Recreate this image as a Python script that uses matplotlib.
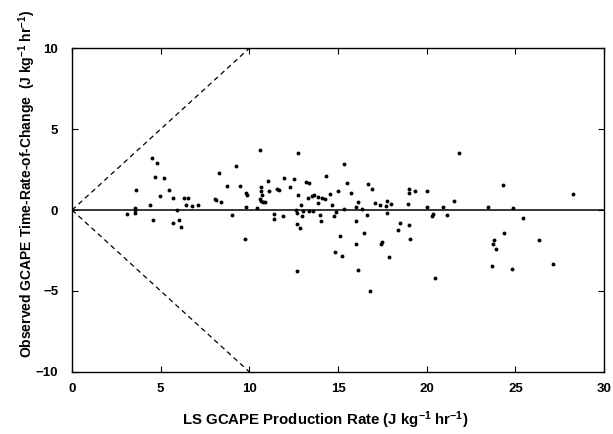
import numpy as np
import matplotlib
matplotlib.use("Agg")
import matplotlib.pyplot as plt

plt.rcParams["font.family"] = ["Liberation Sans", "DejaVu Sans"]
plt.rcParams["mathtext.fontset"] = "custom"
plt.rcParams["mathtext.rm"] = "Liberation Sans:bold"
plt.rcParams["mathtext.it"] = "Liberation Sans:bold"
plt.rcParams["mathtext.bf"] = "Liberation Sans:bold"

# LS GCAPE production rate (x) vs observed GCAPE time-rate-of-change (y)
prod_rate = [
    4.51, 4.79, 4.68, 5.19, 3.61, 5.47, 4.96, 5.70, 6.32, 6.54,
    4.40, 6.43, 6.77, 7.10, 3.55, 3.55, 3.55, 3.10, 5.92, 4.57,
    5.70, 6.03, 6.15, 8.29, 8.74, 8.07, 8.12, 8.40,
    10.60, 12.75, 9.25, 15.34, 9.48, 11.05, 11.96, 12.52, 13.20, 13.37,
    14.33, 10.66, 10.66, 11.10, 11.56, 11.68, 12.30, 9.81, 9.87, 10.72,
    10.60, 10.66, 10.77, 10.89, 12.75, 13.30, 13.54, 13.65, 13.87, 14.10,
    14.27, 14.55, 15.00, 13.87, 9.81, 10.43, 12.92, 14.66, 12.63, 12.69,
    13.03, 13.37, 13.59, 12.97, 9.02, 11.39, 11.90, 11.39, 13.99, 14.90,
    14.78, 14.04, 12.69, 12.86, 9.76, 15.12, 14.83, 15.23, 12.69, 15.34,
    21.83, 15.51, 16.70, 16.92, 15.74, 16.13, 17.09, 17.37, 17.77, 17.71,
    17.99, 19.00, 19.00, 19.35, 20.02, 21.55, 18.95, 16.02, 16.36, 20.02,
    20.93, 16.64, 17.77, 16.02, 16.47, 16.02, 16.13, 16.81, 17.48, 17.43,
    17.88, 18.39, 18.50, 19.00, 19.06, 20.36, 20.30, 21.15, 20.47,
    24.31, 28.26, 23.46, 24.87, 25.44, 24.37, 23.80, 23.74, 23.91, 26.34,
    23.69, 24.82, 27.13,
]
obs_change = [
    3.21, 2.90, 2.04, 1.98, 1.23, 1.23, 0.86, 0.74, 0.74, 0.74,
    0.31, 0.30, 0.25, 0.30, 0.12, 0.00, -0.18, -0.25, 0.00, -0.62,
    -0.80, -0.62, -1.05, 2.28, 1.48, 0.68, 0.62, 0.49,
    3.70, 3.52, 2.72, 2.84, 1.48, 1.79, 1.98, 1.91, 1.73, 1.67,
    2.10, 1.42, 1.17, 1.17, 1.30, 1.23, 1.42, 1.05, 0.93, 0.93,
    0.68, 0.56, 0.49, 0.49, 0.93, 0.74, 0.86, 0.93, 0.80, 0.74,
    0.68, 0.99, 1.17, 0.43, 0.18, 0.12, 0.31, 0.31, 0.00, -0.18,
    -0.06, -0.06, -0.06, -0.37, -0.31, -0.25, -0.37, -0.56, -0.31, -0.12,
    -0.37, -0.68, -0.86, -1.11, -1.79, -1.60, -2.59, -2.84, -3.77, 0.06,
    3.52, 1.67, 1.60, 1.30, 1.05, 0.49, 0.43, 0.31, 0.56, 0.25,
    0.37, 1.30, 1.05, 1.17, 1.17, 0.56, 0.37, 0.18, 0.06, 0.18,
    0.18, -0.31, -0.18, -0.68, -1.42, -2.10, -3.70, -5.00, -1.98, -2.10,
    -2.90, -1.23, -0.80, -0.93, -1.79, -0.25, -0.37, -0.31, -4.20,
    1.54, 0.99, 0.18, 0.12, -0.49, -1.42, -1.85, -2.10, -2.40, -1.85,
    -3.46, -3.64, -3.33,
]

# reference lines: zero line and the +/- one-to-one bounds
zero_x = [0, 30]
bound_x = [0, 10]

fig = plt.figure(figsize=(6.13, 4.34), dpi=100)
ax = fig.add_axes([0.1175, 0.143, 0.868, 0.746])

ax.plot(zero_x, [0, 0], color="black", lw=1.1)
ax.plot(bound_x, bound_x, color="black", lw=0.9, dashes=(4, 3))
ax.plot(bound_x, [-v for v in bound_x], color="black", lw=0.9, dashes=(4, 3))
ax.plot(prod_rate, obs_change, "o", color="black", ms=2.8, mew=0)

ax.set_xlim(0, 30)
ax.set_ylim(-10, 10)
ax.set_xticks([0, 5, 10, 15, 20, 25, 30])
ax.set_yticks([-10, -5, 0, 5, 10])
ax.tick_params(direction="in", length=4, width=0.8, top=True, right=True,
               labelsize=9.5)
ax.tick_params(axis="x", pad=8)
ax.tick_params(axis="y", pad=10)
for lab in ax.get_xticklabels() + ax.get_yticklabels():
    lab.set_fontweight("bold")
for sp in ax.spines.values():
    sp.set_linewidth(1.0)

ax.set_xlabel("LS GCAPE Production Rate (J kg$^{-1}$ hr$^{-1}$)",
              fontsize=10.8, fontweight="bold")
ax.set_ylabel("Observed GCAPE Time-Rate-of-Change  (J kg$^{-1}$ hr$^{-1}$)",
              fontsize=10, fontweight="bold")
ax.xaxis.set_label_coords(0.476, -0.115)
ax.yaxis.set_label_coords(-0.064, 0.58)

fig.savefig("out.png", dpi=100)
